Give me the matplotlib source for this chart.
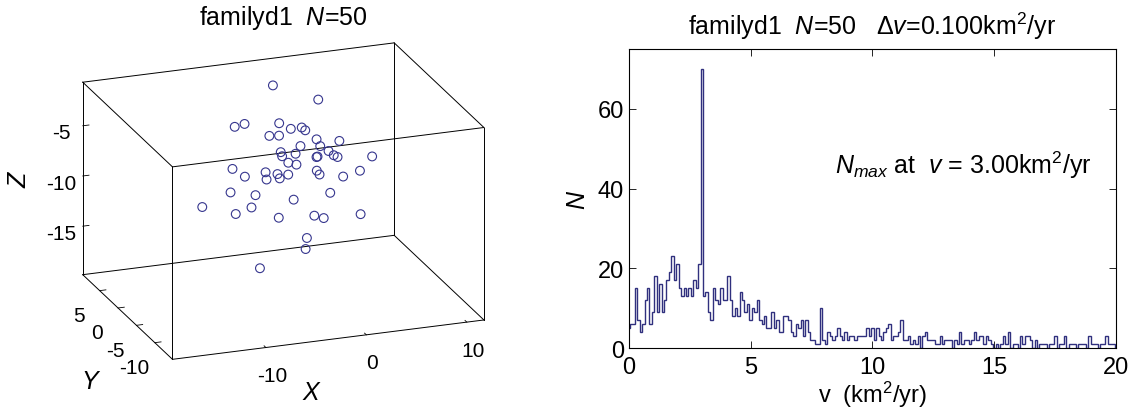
import numpy as np
import matplotlib.pyplot as plt

plt.rcParams['font.family'] = ['Liberation Sans', 'DejaVu Sans']
plt.rcParams['mathtext.fontset'] = 'custom'
plt.rcParams['mathtext.rm'] = 'Liberation Sans'
plt.rcParams['mathtext.it'] = 'Liberation Sans:italic'
plt.rcParams['mathtext.bf'] = 'Liberation Sans:bold'
plt.rcParams['axes.unicode_minus'] = False

family = 'familyd1'

# event locations (km)
ev_x = [-1.69, 2.09, -6.59, -4.88, -2.53, -2.47, 0.08, -0.30, -4.97, -1.81,
        0.46, 1.63, -0.41, 0.46, -2.74, 2.75, -2.36, 2.17, 3.28, -0.91,
        0.82, 5.26, -2.97, -3.45, -0.81, -9.74, -6.31, -4.98, -3.42, -3.43,
        -4.67, -1.63, -0.25, 2.22, 2.74, 3.68, -7.37, -6.35, -1.82, -0.01,
        -9.82, -7.95, -5.65, -4.40, 0.97, 0.44, 5.21, -1.60, -0.63, -6.64]
ev_y = [6, 4, 3, 5, 2, -1, 3, 1, -2, 4,
        0, -3, 2, -1, 1, 3, -2, 0, 2, -4,
        1, -2, 0, -3, 2, -5, 1, -1, 3, 0,
        -4, 2, -2, 4, -1, -3, 2, -2, 0, -5,
        3, -1, 1, -3, 2, -2, 1, -3, 0, -4]
ev_z = [-1.96, -3.16, -4.43, -5.05, -4.24, -3.77, -5.34, -4.88, -3.81, -6.26,
        -5.53, -4.80, -6.78, -5.86, -6.75, -8.02, -5.92, -7.33, -8.34, -5.69,
        -7.69, -7.15, -6.78, -6.33, -8.58, -5.46, -8.74, -7.78, -10.08, -8.50,
        -7.39, -9.47, -7.87, -10.64, -9.18, -8.03, -10.52, -9.54, -11.25, -9.07,
        -12.01, -11.56, -11.89, -11.69, -13.89, -12.68, -13.93, -14.06, -16.32, -16.09]

# velocity histogram, bins centred on 0.0, 0.1, ..., 20.0 km^2/yr
dv = 0.1
counts = [5, 6, 6, 15, 7, 4, 6, 12, 15, 6, 9, 18, 9, 16, 9, 12, 17, 19, 23,
          17, 21, 15, 13, 15, 13, 15, 13, 17, 15, 21,
          70,
          13, 14, 9, 7, 15, 12, 11, 15, 12, 12, 18,
          12, 8, 10, 8, 14, 12, 9, 11, 7, 10, 9, 12, 7, 6, 8, 5, 5, 9, 5, 7,
          4, 4, 8, 8, 7, 4, 3, 6, 5, 7, 3, 7, 4, 2, 2, 1, 1, 10,
          2, 1, 4, 3, 2, 3, 5, 3, 2, 4, 2, 3, 3, 2, 3, 3, 3, 3, 5, 3,
          5, 2, 5, 3, 2, 4, 5, 6, 2, 3, 3, 4, 7, 2, 2, 3, 1, 2, 1, 3,
          0, 3, 4, 2, 2, 2, 1, 1, 3, 1, 2, 2, 2, 0, 2, 1, 4, 1, 2, 2,
          1, 2, 4, 2, 3, 3, 1, 3, 2, 1, 0, 1, 0, 1, 3, 1, 4, 0, 1, 1,
          0, 3, 1, 3, 3, 2, 0, 2, 0, 1, 1, 1, 0, 1, 1, 3, 0, 1, 1, 3,
          0, 1, 1, 1, 0, 1, 1, 1, 0, 3, 1, 1, 1, 0, 1, 1, 3, 1, 1, 1, 0]

xl = (-19.3, 11.7)
yl = (-14.8, 9.6)
zl = (-19.83, -0.66)

W, H = 1133, 414
fig = plt.figure(figsize=(W / 100, H / 100), dpi=100)

# ---- 3D event cloud
ax3 = fig.add_axes([0.0688, 0.0158, 0.353, 0.966], projection='3d')
ax3.set_proj_type('ortho')
ax3.view_init(elev=20.2, azim=-110.1)
ax3.set_xlim(xl, view_margin=0)
ax3.set_ylim(yl, view_margin=0)
ax3.set_zlim(zl, view_margin=0)
ax3.set_box_aspect((xl[1] - xl[0], yl[1] - yl[0], zl[1] - zl[0]), zoom=1.139)
ax3.grid(False)

for a in (ax3.xaxis, ax3.yaxis, ax3.zaxis):
    a.set_pane_color((1, 1, 1, 0))
    a.pane.set_edgecolor((1, 1, 1, 0))
    a.line.set_color((1, 1, 1, 0))
    a._axinfo['tick']['inward_factor'] = 0.0
    a._axinfo['tick']['outward_factor'] = 0.25
    a._axinfo['tick']['linewidth'] = {True: 0.6, False: 0.5}

# box edges
ek = dict(color='k', lw=0.7, clip_on=False)
for y in yl:
    for z in zl:
        ax3.plot(xl, [y, y], [z, z], **ek)
for x in xl:
    for z in zl:
        ax3.plot([x, x], yl, [z, z], **ek)
for x in xl:
    for y in yl:
        ax3.plot([x, x], [y, y], zl, **ek)

ax3.scatter(ev_x, ev_y, ev_z, s=40, facecolors='none', edgecolors='#36368e',
            linewidths=0.8, depthshade=False, clip_on=False)

ax3.set_xticks([-10, 0, 10])
ax3.set_yticks([-10, -5, 0, 5])
ax3.set_zticks([-15, -10, -5])
ax3.tick_params(labelsize=15, pad=2)
ax3.zaxis.set_tick_params(pad=0)

fig.text(283.4 / W, 1 - 25 / H, f'{family}  $N$={len(ev_x)}', ha='center',
         va='baseline', fontsize=18)
fig.text(310.7 / W, 1 - 392.7 / H, 'X', style='italic', fontsize=18,
         ha='center', va='center')
fig.text(89.3 / W, 1 - 381.7 / H, 'Y', style='italic', fontsize=18,
         ha='center', va='center')
fig.text(19.6 / W, 1 - 180 / H, 'Z', style='italic', fontsize=18,
         ha='center', va='center', rotation=90)

# ---- velocity histogram
ax = fig.add_axes([0.5549, 0.157, 0.4303, 0.7222])
edges = (np.arange(len(counts) + 1) - 0.5) * dv
ax.stairs(counts, edges, color='#30307e', lw=1.0)
ax.set_xlim(0, 20)
ax.set_ylim(0, 75)
ax.set_xticks([0, 5, 10, 15, 20])
ax.set_yticks([0, 20, 40, 60])
ax.tick_params(direction='in', top=True, right=True, labelsize=17, length=5,
               width=0.6)
ax.tick_params(axis='x', pad=6)
for s in ax.spines.values():
    s.set_linewidth(0.8)

imax = int(np.argmax(counts))
vmax = imax * dv
ax.set_title(f'{family}  $N$={len(ev_x)}   $\\Delta v$={dv:.3f}km$^2$/yr',
             fontsize=18, pad=11)
ax.text(8.46, 44, f'$N_{{max}}$ at  $v$ = {vmax:.2f}km$^2$/yr',
        fontsize=18, va='baseline')
ax.set_xlabel('v  (km$^2$/yr)', fontsize=17, labelpad=0)
ax.set_ylabel('N', style='italic', fontsize=18, labelpad=6)

fig.savefig('out.png', dpi=100)
